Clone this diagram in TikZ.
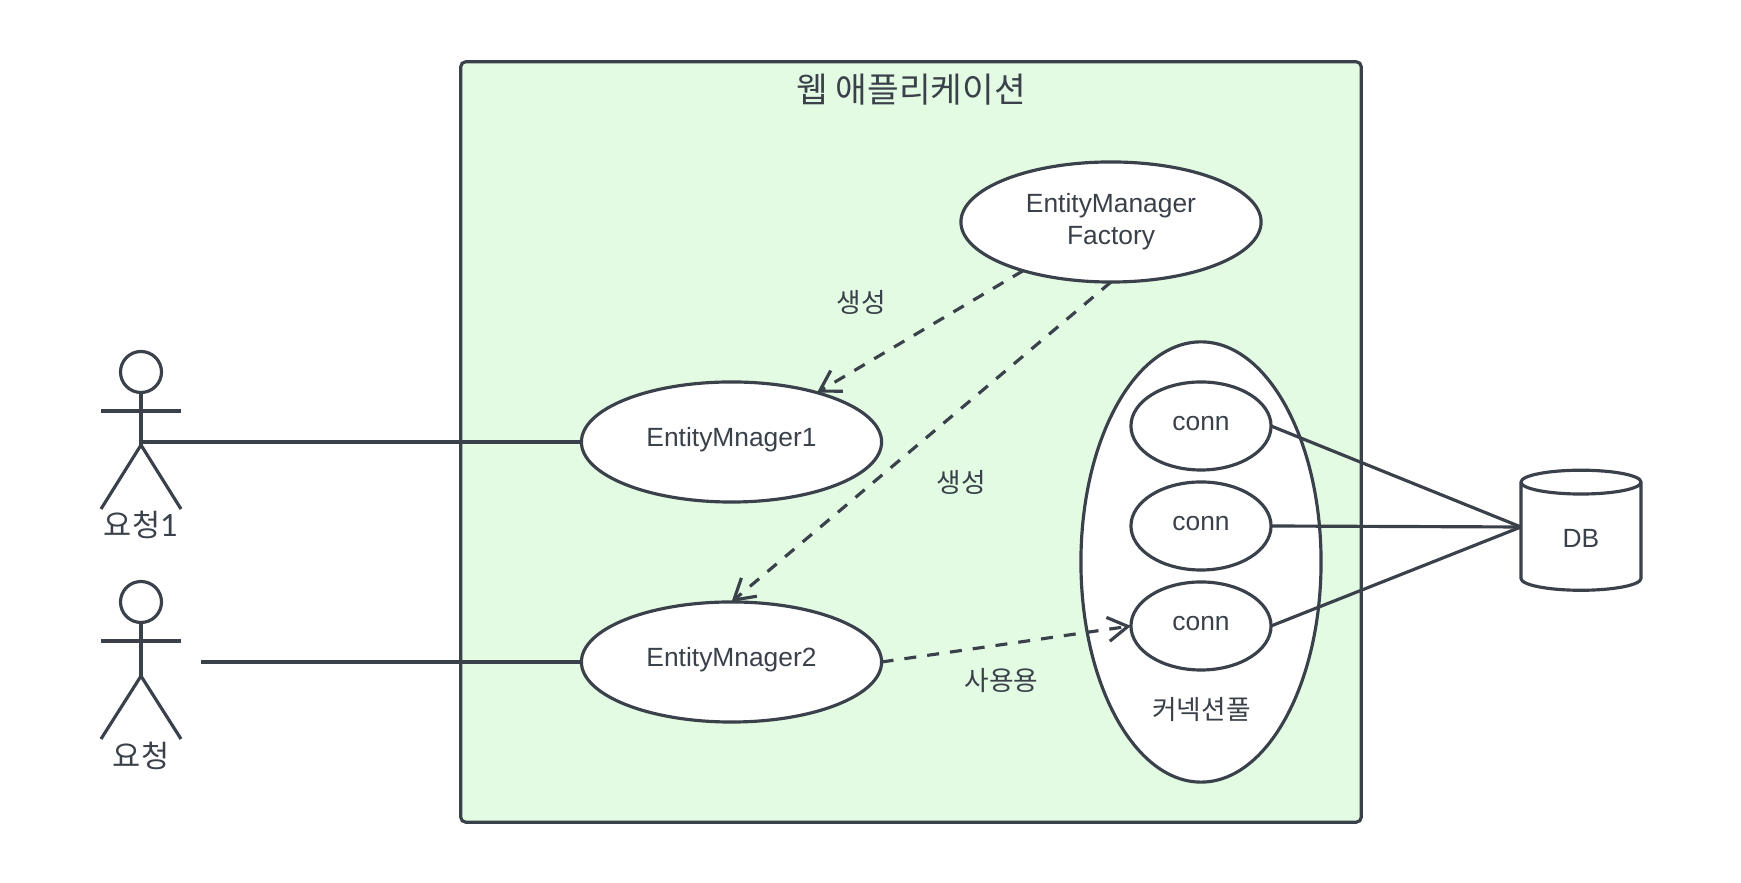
\documentclass[tikz,border=0pt]{standalone}
\usepackage{fontspec}
\setmainfont{Liberation Sans}
\newfontfamily\krfont{Noto Sans CJK KR}
\newfontfamily\digitfont{Lato}
\usetikzlibrary{shapes.geometric,arrows.meta}
\definecolor{inkgray}{HTML}{3A414A}
\definecolor{appgreen}{HTML}{E3FAE3}
\tikzset{
	usecase/.style={draw=inkgray,fill=white,ellipse,inner sep=0pt,outer sep=0pt,text=inkgray,font=\fontsize{7.5}{9.1}\selectfont},
	oneline/.style={text height=0.17cm,text depth=0.07cm},
	kolabel/.style={text=inkgray,inner sep=0pt,font=\krfont\fontsize{7.6}{9}\selectfont},
	actorlabel/.style={text=inkgray,inner sep=0pt,font=\krfont\fontsize{8.7}{10}\selectfont},
	creates/.style={dash pattern=on 0.12cm off 0.11cm,-{Straight Barb[length=2mm,width=2.4mm]}}
}
\begin{document}
\begin{tikzpicture}[x=0.01cm,y=-0.01cm,line width=0.9pt,draw=inkgray]
	\useasboundingbox (0,0) rectangle (1741,883);
	
	%application box
	\node[draw=inkgray,fill=appgreen,rectangle,rounded corners=0.05cm,inner sep=0pt,outer sep=0pt,minimum width=9cm,minimum height=7.6cm] (webapp) at (911,442) {};
	\node[kolabel,font=\krfont\fontsize{9.8}{12}\selectfont] (webapptitle) at (911,90) {웹 애플리케이션};
	
	%actor 1
	\draw (141,372) circle (20.5); %head
	\draw (141,392.5) -- (141,445); %body
	\draw (101,411) -- (181,411); %arms
	\draw (101,509) -- (141,445) -- (181,509); %legs
	\coordinate (actorone) at (141,442);
	\node[actorlabel] (actoronelabel) at (141,525) {요청{\digitfont 1}};
	
	%actor 2
	\draw (141,602) circle (20.5); %head
	\draw (141,622.5) -- (141,676); %body
	\draw (101,641) -- (181,641); %arms
	\draw (101,739) -- (141,676) -- (181,739); %legs
	\coordinate (actortwo) at (201,662);
	\node[actorlabel] (actortwolabel) at (141,756) {요청};
	
	%use cases
	\node[usecase,align=center,minimum width=3cm,minimum height=1.2cm] (factory) at (1111,222) {EntityManager\\Factory};
	\node[usecase,oneline,minimum width=3cm,minimum height=1.2cm] (managerone) at (731.5,442) {EntityMnager1};
	\node[usecase,oneline,minimum width=3cm,minimum height=1.2cm] (managertwo) at (731.5,662) {EntityMnager2};
	
	%connection pool
	\node[usecase,minimum width=2.4cm,minimum height=4.4cm] (pool) at (1201,562) {};
	\node[usecase,oneline,minimum width=1.4cm,minimum height=0.88cm] (connone) at (1201,426) {conn};
	\node[usecase,oneline,minimum width=1.4cm,minimum height=0.88cm] (conntwo) at (1201,526) {conn};
	\node[usecase,oneline,minimum width=1.4cm,minimum height=0.88cm] (connthree) at (1201,626) {conn};
	\node[kolabel] (poollabel) at (1201.5,710) {커넥션풀};
	
	%database
	\node[draw=inkgray,cylinder,shape border rotate=90,aspect=0.65,inner sep=0pt,outer sep=0pt,text height=0.21cm,text depth=0cm,minimum width=1.2cm,minimum height=1.2cm,text=inkgray,font=\fontsize{7.5}{9.1}\selectfont] (db) at (1581,537) {DB};
	\coordinate (dbport) at (1521,527);
	
	%actor lines
	\draw (actorone) -- (managerone.west);
	\draw (actortwo) -- (managertwo.west);
	
	%dashed arrows
	\draw[creates] (factory.209) -- (managerone.30);
	\draw[creates] (factory.south) -- (managertwo.north);
	\draw[creates] (managertwo.east) -- (connthree.west);
	
	%db lines
	\draw (connone.east) -- (dbport);
	\draw (conntwo.east) -- (dbport);
	\draw (connthree.east) -- (dbport);
	
	%labels
	\node[kolabel] (createone) at (861,302) {생성};
	\node[kolabel] (createtwo) at (961,482) {생성};
	\node[kolabel] (uselabel) at (1001.5,681) {사용용};
\end{tikzpicture}
\end{document}
